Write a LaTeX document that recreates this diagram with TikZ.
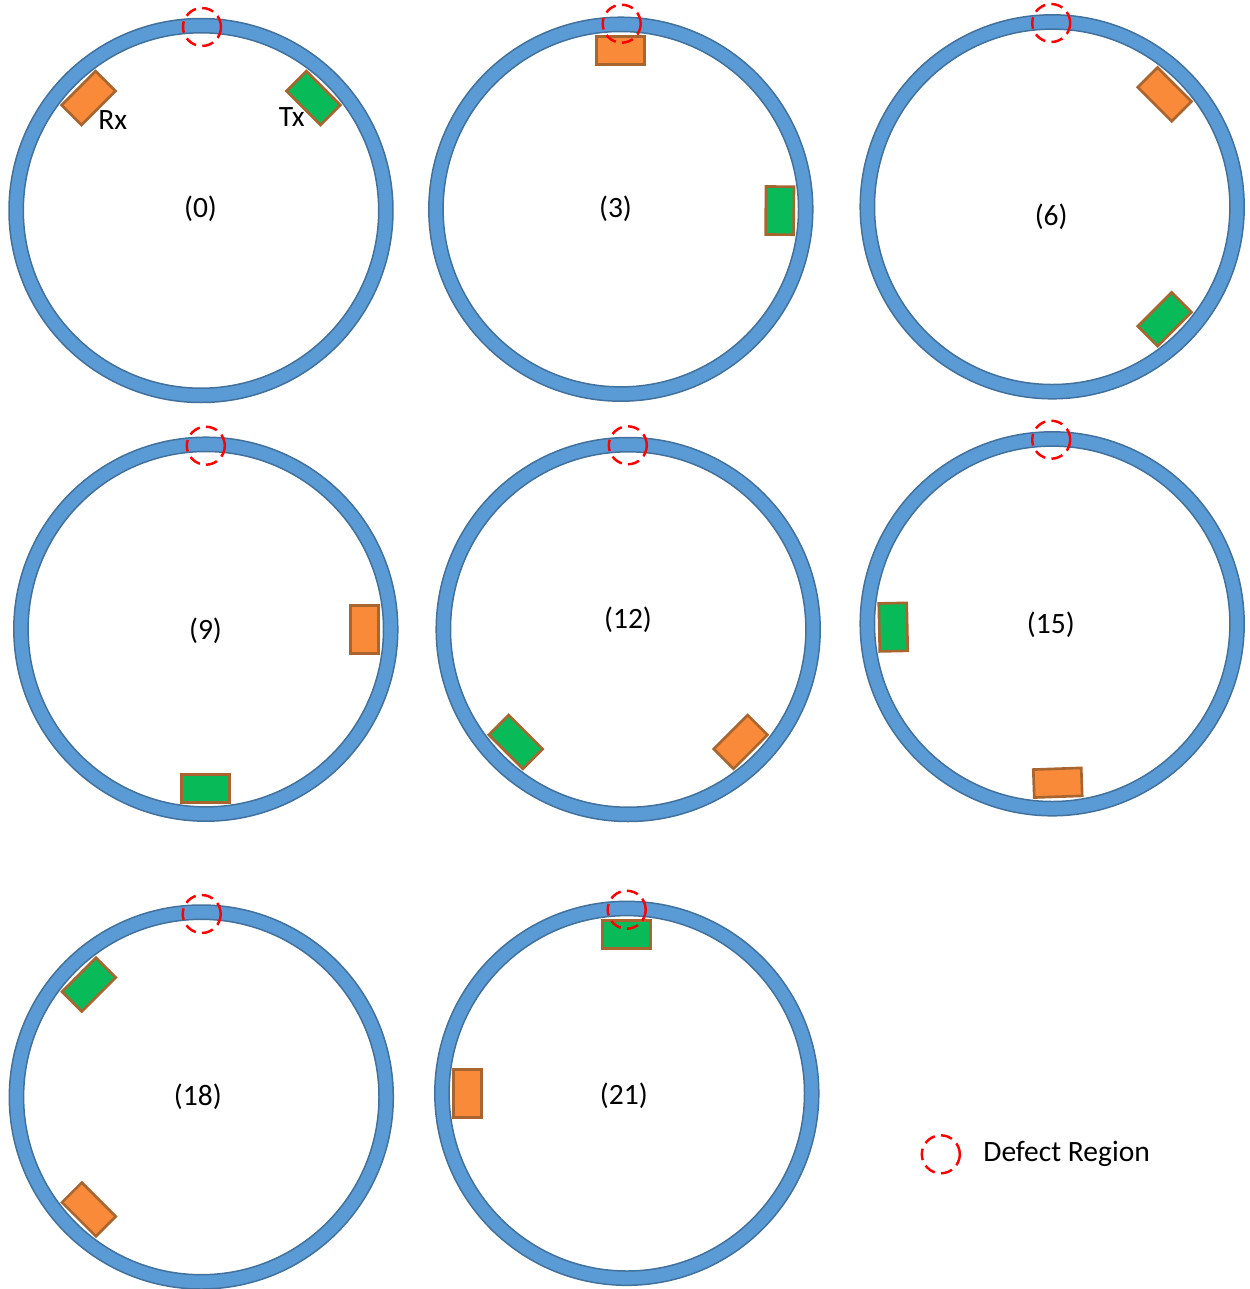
\documentclass[tikz,border=0pt]{standalone}
\usepackage{fontspec}
\setmainfont{Carlito}
\usetikzlibrary{calc}

\definecolor{ringblue}{HTML}{5B9BD5}
\definecolor{ringedge}{HTML}{41719C}
\definecolor{rxorange}{HTML}{F88A3A}
\definecolor{txgreen}{HTML}{08BA58}
\definecolor{probeedge}{HTML}{A8652F}
\definecolor{defectred}{HTML}{FF0000}

\tikzset{
  pipewall/.style={fill=ringblue, even odd rule},
  pipeedge/.style={draw=ringedge, line width=0.85pt},
  rxbox/.style={draw=probeedge, fill=rxorange, line width=1.5pt,
    minimum width=0.96cm, minimum height=0.56cm, inner sep=0pt, outer sep=0pt},
  txbox/.style={draw=probeedge, fill=txgreen, line width=1.5pt,
    minimum width=0.96cm, minimum height=0.56cm, inner sep=0pt, outer sep=0pt},
  defect/.style={draw=defectred, line width=1.4pt, dash pattern=on 6.6pt off 3.6pt},
  steplabel/.style={inner sep=0pt, font=\fontsize{16.8}{20}\selectfont},
  probelabel/.style={inner sep=0pt, anchor=base, font=\fontsize{16.8}{20}\selectfont},
}

% one pipe cross-section: name, centre
\newcommand\pipesection[2]{%
  \coordinate (#1) at #2;
  \fill[pipewall] (#1) circle[radius=192] (#1) circle[radius=177.7];
  \draw[pipeedge] (#1) circle[radius=192] (#1) circle[radius=177.7];
}
% a probe on the inner wall: node name, style, pipe centre, angle
\newcommand\probeat[4]{%
  \node[#2, rotate=#4-90] (#1) at ($(#3)+(-#4:159)$) {};
}

\begin{document}
\begin{tikzpicture}[x=0.02cm, y=-0.02cm]
\useasboundingbox (0,0) rectangle (1249,1289);

% probes first, so the pipe wall overlaps their outer edges
\coordinate (p0) at (201,210.5);
\coordinate (p3) at (620.8,209.2);
\coordinate (p6) at (1052.2,206.8);
\coordinate (p9) at (205.8,629.2);
\coordinate (p12) at (628.2,629.5);
\coordinate (p15) at (1052.2,623.8);
\coordinate (p18) at (201.3,1097);
\coordinate (p21) at (626.8,1093.3);

\probeat{rx0}{rxbox}{p0}{135}
\probeat{tx0}{txbox}{p0}{45}
\probeat{rx3}{rxbox}{p3}{90}
\probeat{tx3}{txbox}{p3}{-0.5}
\probeat{rx6}{rxbox}{p6}{45}
\probeat{tx6}{txbox}{p6}{-45}
\probeat{rx9}{rxbox}{p9}{0}
\probeat{tx9}{txbox}{p9}{-90}
\probeat{rx12}{rxbox}{p12}{-45}
\probeat{tx12}{txbox}{p12}{-135}
\probeat{rx15}{rxbox}{p15}{-88}
\probeat{tx15}{txbox}{p15}{-178.8}
\probeat{rx18}{rxbox}{p18}{-135}
\probeat{tx18}{txbox}{p18}{135}
\probeat{rx21}{rxbox}{p21}{180}
\probeat{tx21}{txbox}{p21}{90}

% pipe walls
\pipesection{s0}{(201,210.5)}
\pipesection{s3}{(620.8,209.2)}
\pipesection{s6}{(1052.2,206.8)}
\pipesection{s9}{(205.8,629.2)}
\pipesection{s12}{(628.2,629.5)}
\pipesection{s15}{(1052.2,623.8)}
\pipesection{s18}{(201.3,1097)}
\pipesection{s21}{(626.8,1093.3)}

% defect markers
\draw[defect] (202,27) circle[radius=19];
\draw[defect] (621.7,23.7) circle[radius=19];
\draw[defect] (1051.2,23) circle[radius=19];
\draw[defect] (205.8,445.7) circle[radius=19];
\draw[defect] (627.8,445.3) circle[radius=19];
\draw[defect] (1051.2,439.7) circle[radius=19];
\draw[defect] (201.7,914) circle[radius=19];
\draw[defect] (626.7,909.7) circle[radius=19];

% step labels
\node[steplabel] (l0) at (200.5,208.7) {(0)};
\node[steplabel] (l3) at (615.5,208.3) {(3)};
\node[steplabel] (l6) at (1051.2,217) {(6)};
\node[steplabel] (l9) at (205.5,630.3) {(9)};
\node[steplabel] (l12) at (628,619.7) {(12)};
\node[steplabel] (l15) at (1050.8,625) {(15)};
\node[steplabel] (l18) at (197.8,1097) {(18)};
\node[steplabel] (l21) at (623.8,1095.3) {(21)};

% probe names
\node[probelabel] (rxname) at (112.7,129.3) {Rx};
\node[probelabel] (txname) at (291.7,126.7) {Tx};

% legend
\draw[defect] (940.8,1154.3) circle[radius=19];
\node[inner sep=0pt, anchor=base west, font=\fontsize{16.8}{20}\selectfont] (legend) at (983,1161.7) {Defect Region};
\end{tikzpicture}
\end{document}
